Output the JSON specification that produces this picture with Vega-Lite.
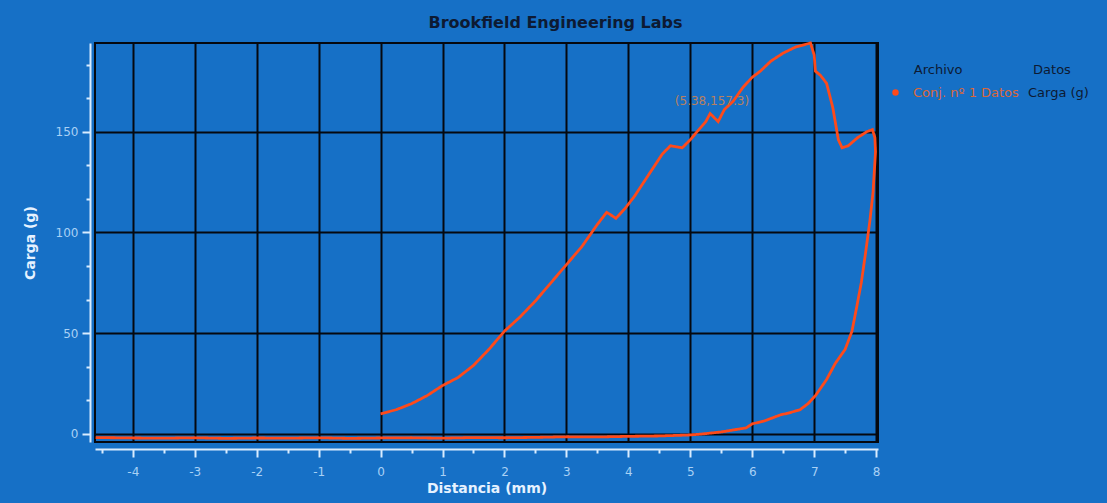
{
  "$schema": "https://vega.github.io/schema/vega-lite/v6.json",
  "autosize": {"type": "none"},
  "width": 783,
  "height": 399,
  "padding": {"left": 95, "top": 43, "right": 229, "bottom": 61},
  "background": "#1670c6",
  "title": {"text": "Brookfield Engineering Labs", "fontSize": 16, "font": "DejaVu Sans", "fontWeight": "bold", "color": "#0d1a33", "anchor": "middle", "dx": 69, "offset": 6},
  "config": {
    "font": "DejaVu Sans",
    "view": {"stroke": "#05080f", "strokeWidth": 2, "fill": "#1670c6"},
    "axis": {"labelFont": "DejaVu Sans", "labelFontSize": 12, "labelColor": "#a9d1f5", "titleFont": "DejaVu Sans", "titleFontSize": 14, "titleFontWeight": "bold", "titleColor": "#e6f2ff", "domainColor": "#d9ecff", "domainWidth": 2, "tickColor": "#d9ecff", "tickWidth": 2, "gridColor": "#05080f", "gridWidth": 2, "gridOpacity": 1},
    "legend": {"titleFont": "DejaVu Sans", "labelFont": "DejaVu Sans", "titleFontSize": 13, "labelFontSize": 13, "titleFontWeight": "normal", "titleColor": "#0d1a33"}
  },
  "data": {"values": [
    {"i":1,"x":0,"y":10},{"i":2,"x":0.25,"y":12},{"i":3,"x":0.5,"y":15},{"i":4,"x":0.75,"y":19},{"i":5,"x":1,"y":24},
    {"i":6,"x":1.25,"y":28},{"i":7,"x":1.5,"y":34},{"i":8,"x":1.75,"y":42},{"i":9,"x":2,"y":51},{"i":10,"x":2.25,"y":58},
    {"i":11,"x":2.5,"y":66},{"i":12,"x":2.75,"y":75},{"i":13,"x":3,"y":84},{"i":14,"x":3.25,"y":93},{"i":15,"x":3.5,"y":104},
    {"i":16,"x":3.65,"y":110},{"i":17,"x":3.8,"y":107},{"i":18,"x":3.95,"y":112},{"i":19,"x":4.1,"y":118},{"i":20,"x":4.25,"y":125},
    {"i":21,"x":4.4,"y":132},{"i":22,"x":4.55,"y":139},{"i":23,"x":4.68,"y":143},{"i":24,"x":4.87,"y":142},{"i":25,"x":5.0,"y":146},
    {"i":26,"x":5.11,"y":150},{"i":27,"x":5.25,"y":155},{"i":28,"x":5.32,"y":159},{"i":29,"x":5.45,"y":155},{"i":30,"x":5.55,"y":161},
    {"i":31,"x":5.69,"y":165},{"i":32,"x":5.85,"y":172},{"i":33,"x":6.0,"y":177},{"i":34,"x":6.13,"y":180},{"i":35,"x":6.3,"y":185},
    {"i":36,"x":6.5,"y":189},{"i":37,"x":6.7,"y":192},{"i":38,"x":6.94,"y":194},{"i":39,"x":7.0,"y":188},{"i":40,"x":7.02,"y":180},
    {"i":41,"x":7.1,"y":178},{"i":42,"x":7.2,"y":174},{"i":43,"x":7.3,"y":162},{"i":44,"x":7.39,"y":146},{"i":45,"x":7.45,"y":142},
    {"i":46,"x":7.55,"y":143},{"i":47,"x":7.7,"y":147},{"i":48,"x":7.85,"y":150},{"i":49,"x":7.94,"y":151},{"i":50,"x":7.98,"y":147},
    {"i":51,"x":7.99,"y":140},{"i":52,"x":7.95,"y":120},{"i":53,"x":7.9,"y":106},{"i":54,"x":7.83,"y":90},{"i":55,"x":7.76,"y":75},
    {"i":56,"x":7.68,"y":62},{"i":57,"x":7.61,"y":51},{"i":58,"x":7.5,"y":42},{"i":59,"x":7.34,"y":35},{"i":60,"x":7.2,"y":27},
    {"i":61,"x":7.02,"y":19},{"i":62,"x":6.9,"y":15},{"i":63,"x":6.77,"y":12},{"i":64,"x":6.6,"y":10.5},{"i":65,"x":6.45,"y":9.4},
    {"i":66,"x":6.2,"y":6.5},{"i":67,"x":6.0,"y":5},{"i":68,"x":5.9,"y":3},{"i":69,"x":5.7,"y":2},{"i":70,"x":5.5,"y":1},
    {"i":71,"x":5.2,"y":0},{"i":72,"x":5.0,"y":-0.5},{"i":73,"x":4.5,"y":-1},{"i":74,"x":4.0,"y":-1.2},{"i":75,"x":3.5,"y":-1.5},
    {"i":76,"x":3.0,"y":-1.4},{"i":77,"x":2.5,"y":-1.7},{"i":78,"x":2.0,"y":-1.9},{"i":79,"x":1.5,"y":-1.8},{"i":80,"x":1.0,"y":-2.1},
    {"i":81,"x":0.5,"y":-1.9},{"i":82,"x":0.0,"y":-2.0},{"i":83,"x":-0.5,"y":-2.2},{"i":84,"x":-1.0,"y":-1.9},{"i":85,"x":-1.5,"y":-2.1},
    {"i":86,"x":-2.0,"y":-2.0},{"i":87,"x":-2.5,"y":-2.2},{"i":88,"x":-3.0,"y":-1.9},{"i":89,"x":-3.5,"y":-2.1},{"i":90,"x":-4.0,"y":-2.0},
    {"i":91,"x":-4.6,"y":-1.8}
  ]},
  "resolve": {"axis": {"x": "independent", "y": "independent"}},
  "layer": [
    {
      "mark": {"type": "line", "strokeWidth": 2.8, "interpolate": "linear"},
      "transform": [{"calculate": "'Conj. nº 1 Datos'", "as": "archivo"}, {"calculate": "'Carga (g)'", "as": "datos"}],
      "encoding": {
        "x": {"field": "x", "type": "quantitative", "scale": {"domain": [-4.61, 8.03], "nice": false, "zero": false},
          "axis": {"values": [-4,-3,-2,-1,0,1,2,3,4,5,6,7,8], "labelExpr": "replace(datum.label, '\u2212', '-')", "title": "Distancia (mm)", "offset": 7, "tickSize": 8, "labelPadding": 9, "titlePadding": 4, "grid": true, "orient": "bottom"}},
        "y": {"field": "y", "type": "quantitative", "scale": {"domain": [-4, 194], "nice": false, "zero": false},
          "axis": {"values": [0, 50, 100, 150], "title": "Carga (g)", "offset": 5, "tickSize": 8, "labelPadding": 4, "titlePadding": 18, "grid": true, "orient": "left"}},
        "order": {"field": "i", "type": "quantitative"},
        "color": {"field": "archivo", "type": "nominal", "scale": {"range": ["#ff4a1a"]},
          "legend": {"title": "\u200b\u00a0\u00a0\u00a0\u00a0\u00a0\u00a0Archivo", "orient": "none", "legendX": 794, "legendY": 21, "symbolType": "circle", "symbolSize": 25, "symbolFillColor": "#ff4a1a", "symbolStrokeColor": "#ff4a1a", "labelColor": "#d9683c", "titleAnchor": "start", "titlePadding": 9, "labelOffset": 11}},
        "strokeDash": {"field": "datos", "type": "nominal", "scale": {"range": [[1, 0]]},
          "legend": {"title": "Datos", "orient": "none", "legendX": 920, "legendY": 21, "symbolOpacity": 0, "symbolSize": 1, "symbolStrokeWidth": 0, "labelOffset": 0, "labelColor": "#0d1a33", "titleAnchor": "middle", "titlePadding": 9}}
      }
    },
    {
      "mark": {"type": "point", "opacity": 0},
      "encoding": {
        "x": {"field": "x", "type": "quantitative",
          "axis": {"values": [-4.5,-3.5,-2.5,-1.5,-0.5,0.5,1.5,2.5,3.5,4.5,5.5,6.5,7.5], "labels": false, "title": null, "domain": false, "grid": false, "tickSize": 4, "offset": 7, "orient": "bottom"}},
        "y": {"field": "y", "type": "quantitative",
          "axis": {"values": [16.67,33.33,66.67,83.33,116.67,133.33,166.67,183.33], "labels": false, "title": null, "domain": false, "grid": false, "tickSize": 4, "offset": 5, "orient": "left"}}
      }
    },
    {
      "data": {"values": [{"x": 5.35, "y": 165, "label": "(5.38,157.3)"}]},
      "mark": {"type": "text", "fontSize": 12, "color": "#b8805e", "font": "DejaVu Sans"},
      "encoding": {
        "x": {"field": "x", "type": "quantitative", "axis": null},
        "y": {"field": "y", "type": "quantitative", "axis": null},
        "text": {"field": "label"}
      }
    }
  ]
}
